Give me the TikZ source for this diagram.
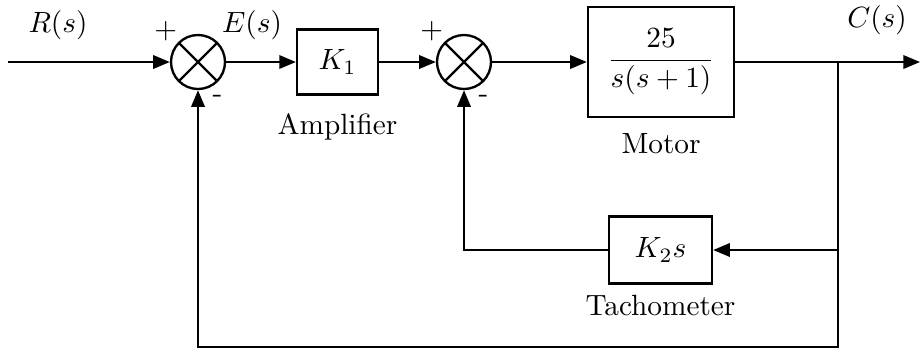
\documentclass[tikz,border=0pt]{standalone}
\usepackage{amsmath}
\usetikzlibrary{arrows.meta, positioning}

\begin{document}
\begin{tikzpicture}[
    >={Triangle[length=0.2cm, width=0.16cm]},
    line width=0.8pt,
    block/.style={draw, inner sep=0pt},
    sumnode/.style={draw, circle, minimum size=0.648cm, inner sep=0pt,
                    path picture={\draw
                      (path picture bounding box.north west) -- (path picture bounding box.south east)
                      (path picture bounding box.north east) -- (path picture bounding box.south west);}},
    plus/.style={inner sep=1pt, label distance=-1.5pt},
    minus/.style={inner sep=1pt, label distance=1pt}
  ]
  \useasboundingbox (0,0) rectangle (11.052,4.224);

  % forward path
  \coordinate (in) at (0.096,3.48);
  \node[sumnode, label={[plus]135:+}, label={[minus]-70:-}] (s1) at (2.376,3.48) {};
  \node[block, minimum width=0.97cm, minimum height=0.78cm] (k1) at (4.05,3.48) {$K_1$};
  \node[sumnode, label={[plus]135:+}, label={[minus]-70:-}] (s2) at (5.568,3.48) {};
  \node[block, minimum width=1.752cm, minimum height=1.32cm] (motor) at (7.932,3.48)
    {$\dfrac{25}{s(s+1)}$};
  \coordinate (br) at (10.056,3.48);
  \coordinate (out) at (11.04,3.48);

  % feedback path
  \node[block, minimum width=1.236cm, minimum height=0.804cm] (tacho) at (7.926,1.224) {$K_2 s$};
  \coordinate (bot) at (0,0.06);

  % signal names
  \node (rs) at (0.696,3.924) {$R(s)$};
  \node (es) at (3.024,3.924) {$E(s)$};
  \node (cs) at (10.524,3.984) {$C(s)$};

  % block names
  \node[below=0.08cm of k1] (amp) {Amplifier};
  \node[below=0.05cm of motor] (mot) {Motor};
  \node[below=0cm of tacho] (tac) {Tachometer};

  \draw[->] (in) -- (s1);
  \draw[->] (s1) -- (k1);
  \draw[->] (k1) -- (s2);
  \draw[->] (s2) -- (motor);
  \draw[->] (motor) -- (out);
  \draw[->] (br) |- (tacho);
  \draw[->] (tacho) -| (s2);
  \draw[->] (br) -- (br |- bot) -| (s1);
\end{tikzpicture}
\end{document}
